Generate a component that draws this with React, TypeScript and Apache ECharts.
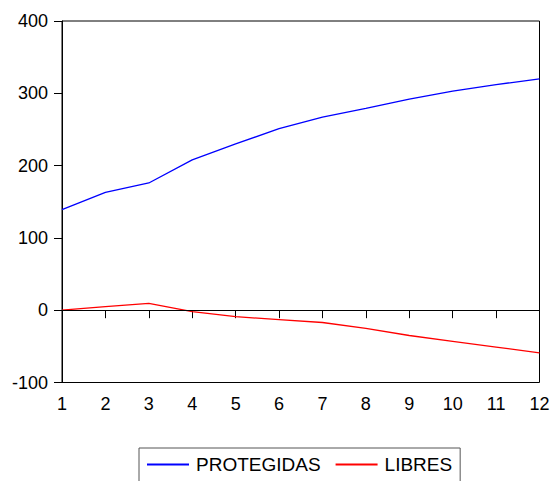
import React, { useEffect, useRef } from "react";
import * as echarts from "echarts";

const categories = ["1", "2", "3", "4", "5", "6", "7", "8", "9", "10", "11", "12"];
const protegidas = [139, 163, 176, 208, 230, 251, 267, 279, 292, 303, 312, 320];
const libres = [0, 5, 9.5, -2, -9, -13, -17, -25, -35, -43, -51, -59];

export default function App() {
  const ref = useRef<HTMLDivElement>(null);
  useEffect(() => {
    if (!ref.current) return;
    const chart = echarts.init(ref.current, null, { renderer: "svg" });
    const font = "Liberation Sans, Arial, sans-serif";
    chart.setOption({
      animation: false,
      backgroundColor: "#fff",
      textStyle: { fontFamily: font },
      grid: {
        left: 62,
        right: 13.5,
        top: 21,
        bottom: 98.5,
        containLabel: false,
        show: true,
        borderColor: "#000",
        borderWidth: 1,
        backgroundColor: "transparent",
      },
      legend: {
        left: 139,
        top: 448,
        orient: "horizontal",
        itemWidth: 42,
        itemHeight: 14,
        itemGap: 15,
        padding: [7, 8, 10, 8],
        borderColor: "#555",
        borderWidth: 1,
        icon: "path://M0,6 L42,6 L42,8 L0,8 Z",
        textStyle: { fontSize: 19, color: "#000", fontFamily: font, padding: [0, 0, 0, 2] },
        data: ["PROTEGIDAS", "LIBRES"],
      },
      xAxis: {
        type: "category",
        data: categories,
        boundaryGap: false,
        axisLine: { lineStyle: { color: "#000", width: 1 } },
        axisTick: { show: true, length: 8, inside: false, alignWithLabel: true, lineStyle: { color: "#000" } },
        axisLabel: { fontSize: 18, color: "#000", margin: 12, fontFamily: font },
        splitLine: { show: false },
      },
      yAxis: {
        type: "value",
        min: -100,
        max: 400,
        interval: 100,
        axisLine: { show: true, lineStyle: { color: "#000", width: 1 } },
        axisTick: { show: true, length: 8, inside: false, lineStyle: { color: "#000" } },
        axisLabel: { fontSize: 18, color: "#000", margin: 14, fontFamily: font },
        splitLine: { show: false },
      },
      series: [
        {
          name: "PROTEGIDAS",
          type: "line",
          data: protegidas,
          symbol: "none",
          lineStyle: { color: "#0000FF", width: 1.3 },
          itemStyle: { color: "#0000FF" },
          markLine: {
            silent: true,
            symbol: "none",
            label: { show: false },
            lineStyle: { color: "#000", width: 1, type: "solid" },
            data: [{ yAxis: 0 }],
          },
        },
        {
          name: "LIBRES",
          type: "line",
          data: libres,
          symbol: "none",
          lineStyle: { color: "#FF0000", width: 1.3 },
          itemStyle: { color: "#FF0000" },
        },
      ],
    });
    return () => chart.dispose();
  }, []);
  return (
    <div
      ref={ref}
      style={{ position: "fixed", left: 0, top: 0, width: 553, height: 481, background: "#fff" }}
    />
  );
}
